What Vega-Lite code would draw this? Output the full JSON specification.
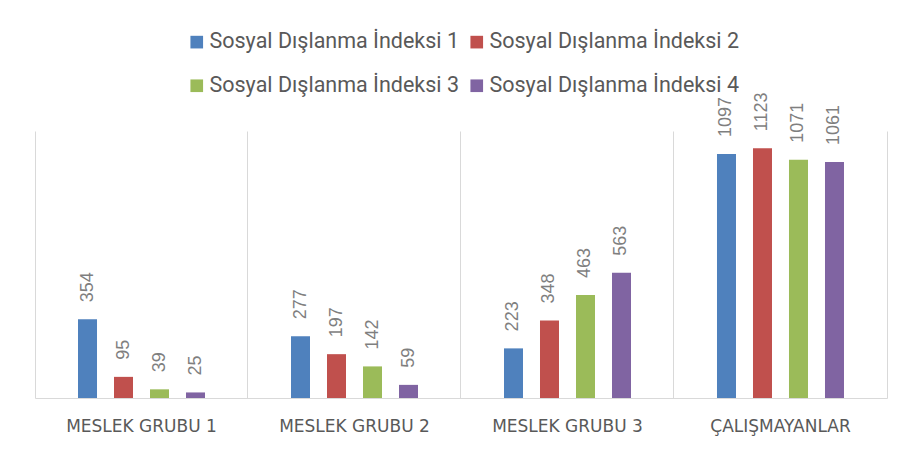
{
  "$schema": "https://vega.github.io/schema/vega-lite/v6.json",
  "autosize": {"type": "none"},
  "width": 852,
  "height": 267,
  "padding": {"left": 35, "top": 131, "right": 24, "bottom": 60},
  "background": "white",
  "data": {"values": [
    {"grup": "MESLEK GRUBU 1", "seri": "Sosyal Dışlanma İndeksi 1", "deger": 354},
    {"grup": "MESLEK GRUBU 1", "seri": "Sosyal Dışlanma İndeksi 2", "deger": 95},
    {"grup": "MESLEK GRUBU 1", "seri": "Sosyal Dışlanma İndeksi 3", "deger": 39},
    {"grup": "MESLEK GRUBU 1", "seri": "Sosyal Dışlanma İndeksi 4", "deger": 25},
    {"grup": "MESLEK GRUBU 2", "seri": "Sosyal Dışlanma İndeksi 1", "deger": 277},
    {"grup": "MESLEK GRUBU 2", "seri": "Sosyal Dışlanma İndeksi 2", "deger": 197},
    {"grup": "MESLEK GRUBU 2", "seri": "Sosyal Dışlanma İndeksi 3", "deger": 142},
    {"grup": "MESLEK GRUBU 2", "seri": "Sosyal Dışlanma İndeksi 4", "deger": 59},
    {"grup": "MESLEK GRUBU 3", "seri": "Sosyal Dışlanma İndeksi 1", "deger": 223},
    {"grup": "MESLEK GRUBU 3", "seri": "Sosyal Dışlanma İndeksi 2", "deger": 348},
    {"grup": "MESLEK GRUBU 3", "seri": "Sosyal Dışlanma İndeksi 3", "deger": 463},
    {"grup": "MESLEK GRUBU 3", "seri": "Sosyal Dışlanma İndeksi 4", "deger": 563},
    {"grup": "ÇALIŞMAYANLAR", "seri": "Sosyal Dışlanma İndeksi 1", "deger": 1097},
    {"grup": "ÇALIŞMAYANLAR", "seri": "Sosyal Dışlanma İndeksi 2", "deger": 1123},
    {"grup": "ÇALIŞMAYANLAR", "seri": "Sosyal Dışlanma İndeksi 3", "deger": 1071},
    {"grup": "ÇALIŞMAYANLAR", "seri": "Sosyal Dışlanma İndeksi 4", "deger": 1061}
  ]},
  "encoding": {
    "x": {
      "field": "grup", "type": "nominal", "sort": null,
      "scale": {"paddingInner": 0.0657, "paddingOuter": 0.0329},
      "axis": {
        "title": null, "labelAngle": 0, "ticks": false,
        "domainColor": "#d9d9d9", "domainWidth": 1,
        "grid": true, "gridColor": "#d9d9d9", "bandPosition": -0.0352,
        "labelFont": "DejaVu Sans", "labelFontSize": 17, "labelColor": "#595959",
        "labelPadding": 20
      }
    },
    "xOffset": {
      "field": "seri", "type": "nominal", "sort": null,
      "scale": {"paddingInner": 0.4722, "paddingOuter": 1}
    },
    "y": {
      "field": "deger", "type": "quantitative",
      "scale": {"domain": [0, 1200], "nice": false},
      "axis": {
        "orient": "right", "title": null, "labels": false, "ticks": false,
        "grid": false, "domainColor": "#d9d9d9"
      }
    }
  },
  "layer": [
    {
      "mark": {"type": "bar"},
      "encoding": {
        "color": {
          "field": "seri", "type": "nominal", "sort": null,
          "scale": {"range": ["#4F81BD", "#C0504D", "#9BBB59", "#8064A2"]},
          "legend": {
            "title": null, "orient": "none", "legendX": 151, "legendY": -100,
            "padding": 0,
            "columns": 2, "direction": "horizontal",
            "symbolType": "square", "symbolSize": 160, "symbolStrokeWidth": 0,
            "labelFont": "Roboto", "labelFontSize": 21.5,
            "labelColor": "#595959", "labelLimit": 400, "labelOffset": 2,
            "columnPadding": 7, "rowPadding": 21
          }
        }
      }
    },
    {
      "mark": {
        "type": "text", "angle": 270, "align": "left", "baseline": "middle",
        "dx": 17, "font": "Liberation Sans", "fontSize": 18, "color": "#7f7f7f"
      },
      "encoding": {"text": {"field": "deger", "type": "quantitative"}}
    }
  ],
  "config": {"view": {"stroke": null}}
}
